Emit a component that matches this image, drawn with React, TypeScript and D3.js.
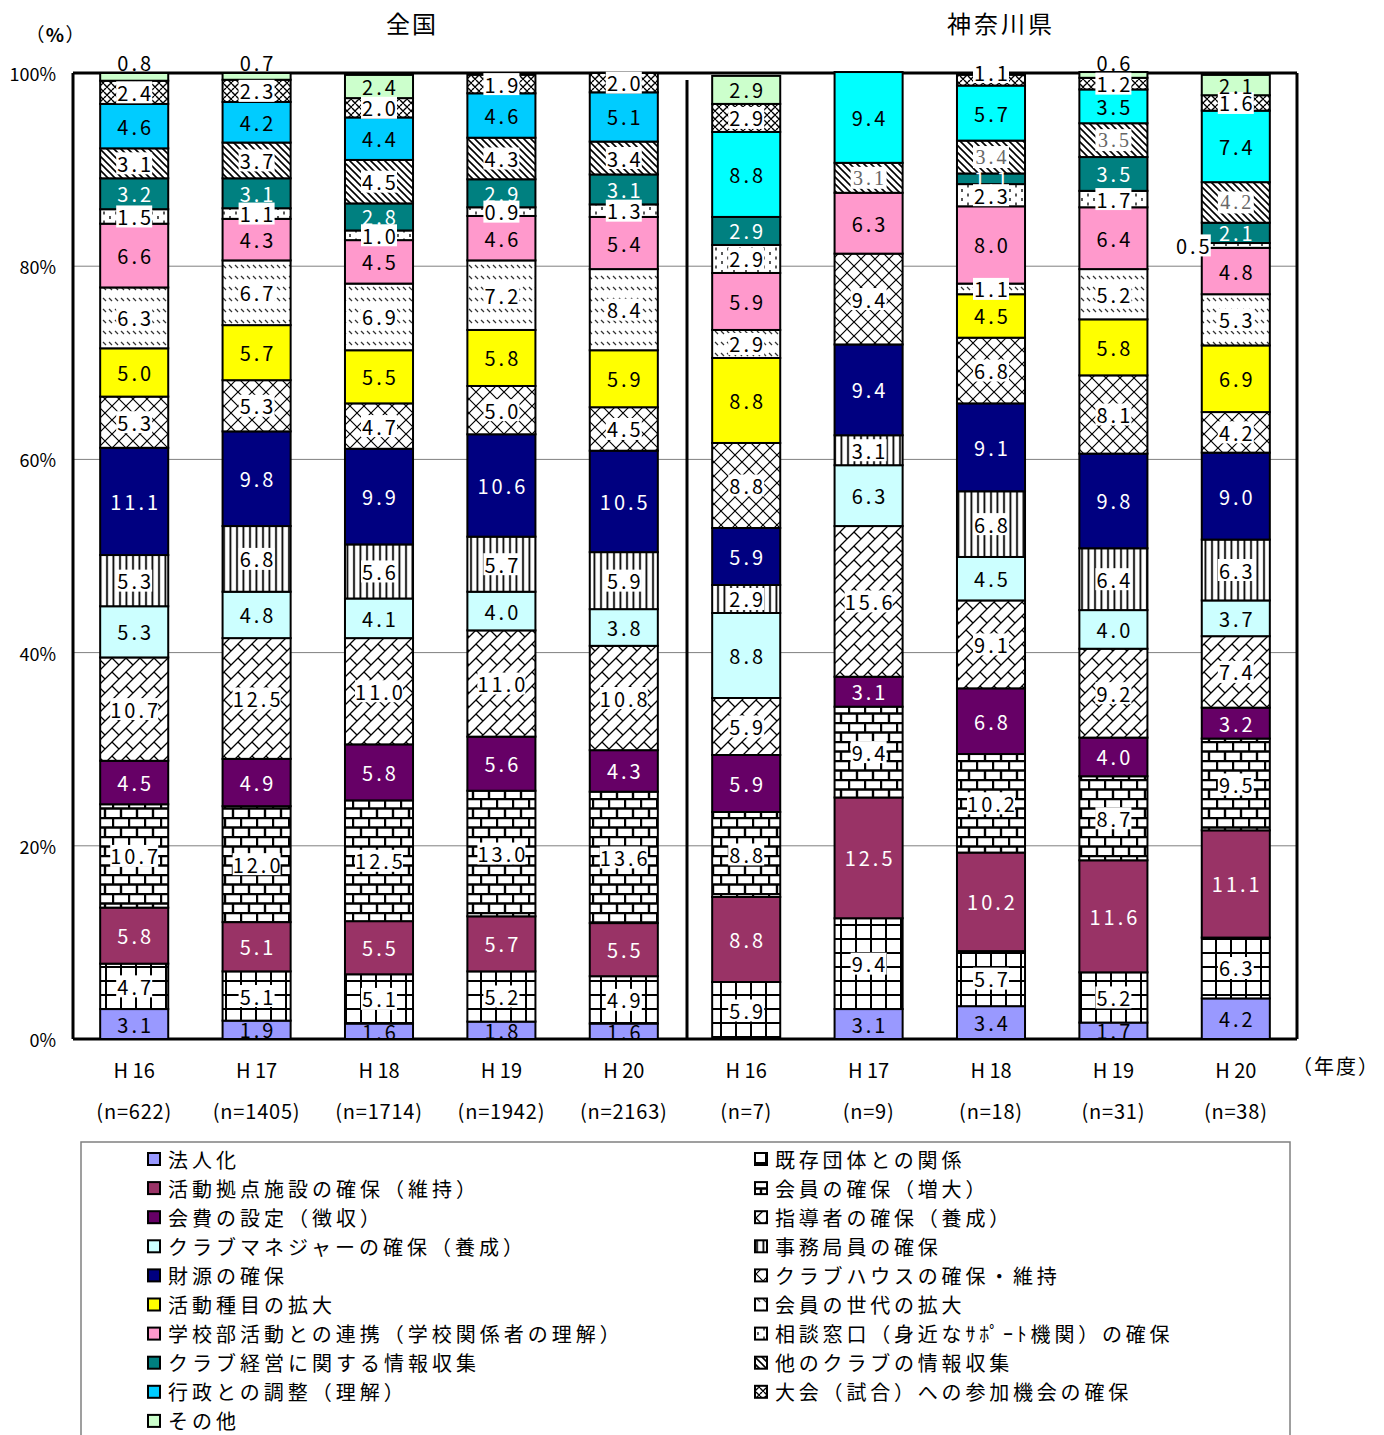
import React from "react";
import * as d3 from "d3";

const categories = [
  "法人化",
  "既存団体との関係",
  "活動拠点施設の確保（維持）",
  "会員の確保（増大）",
  "会費の設定（徴収）",
  "指導者の確保（養成）",
  "クラブマネジャーの確保（養成）",
  "事務局員の確保",
  "財源の確保",
  "クラブハウスの確保・維持",
  "活動種目の拡大",
  "会員の世代の拡大",
  "学校部活動との連携（学校関係者の理解）",
  "相談窓口（身近なｻﾎﾟｰﾄ機関）の確保",
  "クラブ経営に関する情報収集",
  "他のクラブの情報収集",
  "行政との調整（理解）",
  "大会（試合）への参加機会の確保",
  "その他",
];

const yearLabels = ["H 16", "H 17", "H 18", "H 19", "H 20", "H 16", "H 17", "H 18", "H 19", "H 20"];
const nLabels = ["(n=622)", "(n=1405)", "(n=1714)", "(n=1942)", "(n=2163)", "(n=7)", "(n=9)", "(n=18)", "(n=31)", "(n=38)"];
const groupTitles = ["全国", "神奈川県"];
const yTicks = [0, 20, 40, 60, 80, 100];

// values bottom -> top in category order
const zenkokuH16 = [3.1, 4.7, 5.8, 10.7, 4.5, 10.7, 5.3, 5.3, 11.1, 5.3, 5.0, 6.3, 6.6, 1.5, 3.2, 3.1, 4.6, 2.4, 0.8];
const zenkokuH17 = [1.9, 5.1, 5.1, 12.0, 4.9, 12.5, 4.8, 6.8, 9.8, 5.3, 5.7, 6.7, 4.3, 1.1, 3.1, 3.7, 4.2, 2.3, 0.7];
const zenkokuH18 = [1.6, 5.1, 5.5, 12.5, 5.8, 11.0, 4.1, 5.6, 9.9, 4.7, 5.5, 6.9, 4.5, 1.0, 2.8, 4.5, 4.4, 2.0, 2.4];
const zenkokuH19 = [1.8, 5.2, 5.7, 13.0, 5.6, 11.0, 4.0, 5.7, 10.6, 5.0, 5.8, 7.2, 4.6, 0.9, 2.9, 4.3, 4.6, 1.9, 0];
const zenkokuH20 = [1.6, 4.9, 5.5, 13.6, 4.3, 10.8, 3.8, 5.9, 10.5, 4.5, 5.9, 8.4, 5.4, 1.3, 3.1, 3.4, 5.1, 2.0, 0];
const kanagawaH16 = [0, 5.9, 8.8, 8.8, 5.9, 5.9, 8.8, 2.9, 5.9, 8.8, 8.8, 2.9, 5.9, 2.9, 2.9, 0, 8.8, 2.9, 2.9];
const kanagawaH17 = [3.1, 9.4, 12.5, 9.4, 3.1, 15.6, 6.3, 3.1, 9.4, 9.4, 0, 0, 6.3, 0, 0, 3.1, 9.4, 0, 0];
const kanagawaH18 = [3.4, 5.7, 10.2, 10.2, 6.8, 9.1, 4.5, 6.8, 9.1, 6.8, 4.5, 1.1, 8.0, 2.3, 1.1, 3.4, 5.7, 1.1, 0];
const kanagawaH19 = [1.7, 5.2, 11.6, 8.7, 4.0, 9.2, 4.0, 6.4, 9.8, 8.1, 5.8, 5.2, 6.4, 1.7, 3.5, 3.5, 3.5, 1.2, 0.6];
const kanagawaH20 = [4.2, 6.3, 11.1, 9.5, 3.2, 7.4, 3.7, 6.3, 9.0, 4.2, 6.9, 5.3, 4.8, 0.5, 2.1, 4.2, 7.4, 1.6, 2.1];

const barValues = [zenkokuH16, zenkokuH17, zenkokuH18, zenkokuH19, zenkokuH20, kanagawaH16, kanagawaH17, kanagawaH18, kanagawaH19, kanagawaH20];

// fills
const fills = [
  "#9999FF", "url(#p-grid)", "#993366", "url(#p-brick)", "#660066", "url(#p-dbrick)", "#CCFFFF",
  "url(#p-vert)", "#000080", "url(#p-diamond)", "#FFFF00", "url(#p-dash)", "#FF99CC", "url(#p-dot)",
  "#008080", "url(#p-diag)", "#00CCFF", "url(#p-weave)", "#CCFFCC",
];
const kanagawaGyosei = "#00FFFF";
const whiteText = [2, 4, 8, 14];

// label placement overrides: [bar, category, mode]
const labelOverrides: [number, number, string][] = [
  [0, 18, "above"],
  [1, 18, "above"],
  [8, 18, "above"],
  [9, 13, "left"],
  [7, 17, "top"],
];

const W = 1384;
const H = 1435;
const plotLeft = 73;
const plotRight = 1297;
const plotTop = 73;
const plotBottom = 1039;
const FONT = "'Noto Sans CJK JP', 'Noto Sans', sans-serif";

export default function App() {
  const idx = d3.range(barValues.length);
  const x = d3.scaleBand<number>().domain(idx).range([plotLeft, plotRight]).paddingInner(0.444).paddingOuter(0.222);
  const y = d3.scaleLinear().domain([0, 100]).range([plotBottom, plotTop]);
  const keys = categories.map((_, i) => String(i));
  const rows = barValues.map((vals) => {
    const o: Record<string, number> = {};
    vals.forEach((v, i) => (o[String(i)] = v));
    return o;
  });
  const series = d3.stack<Record<string, number>>().keys(keys)(rows);
  const bw = x.bandwidth();
  const sepX = (x(4)! + bw + x(5)!) / 2 + 2;

  const fillFor = (bar: number, cat: number) => (cat === 16 && bar >= 5 ? kanagawaGyosei : fills[cat]);

  const segs: any[] = [];
  const labels: any[] = [];
  series.forEach((s, ci) => {
    s.forEach((d, bi) => {
      const v = barValues[bi][ci];
      if (!v) return;
      const x0 = x(bi)!;
      const yTop = y(d[1]);
      const yBot = y(d[0]);
      segs.push(
        <rect key={`s${bi}-${ci}`} x={x0} y={yTop} width={bw} height={yBot - yTop} fill={fillFor(bi, ci)} stroke="#000" strokeWidth={2} />
      );
      const ov = labelOverrides.find((o) => o[0] === bi && o[1] === ci);
      let lx = x0 + bw / 2;
      let ly = (yTop + yBot) / 2;
      let box = fills[ci].startsWith("url");
      if (ov) {
        if (ov[2] === "above") {
          ly = y(100) - 11;
          box = false;
        } else if (ov[2] === "left") {
          lx = x0 - 9;
          box = true;
        } else if (ov[2] === "top") {
          ly = y(100) - 1;
        }
      }
      const text = v.toFixed(1);
      const tw = text.length === 3 ? 36 : 48;
      const greySerif = ci === 15 && bi >= 5;
      labels.push(
        <g key={`l${bi}-${ci}`}>
          {box && <rect x={lx - tw / 2} y={ly - 11} width={tw} height={22} fill="#fff" />}
          <text
            x={lx + 1.5}
            y={ly}
            textAnchor="middle"
            dominantBaseline="central"
            fontSize={20}
            letterSpacing={3}
            fontFamily={greySerif ? "'Liberation Serif', serif" : FONT}
            fill={whiteText.includes(ci) ? "#fff" : greySerif ? "#666" : "#000"}
          >
            {text}
          </text>
        </g>
      );
    });
  });

  const legendRowY = (r: number) => 1159 + r * 29.1;
  const leftCats = categories.map((_, i) => i).filter((i) => i % 2 === 0);
  const rightCats = categories.map((_, i) => i).filter((i) => i % 2 === 1);

  return (
    <svg width={W} height={H} style={{ position: "absolute", left: 0, top: 0, display: "block" }} fontFamily={FONT}>
      <defs>
        <pattern id="p-grid" width={15} height={14} patternUnits="userSpaceOnUse">
          <rect width={15} height={14} fill="#fff" />
          <path d="M0 1H15 M1 0V14" stroke="#000" strokeWidth={2} />
        </pattern>
        <pattern id="p-brick" width={16} height={19} patternUnits="userSpaceOnUse">
          <rect width={16} height={19} fill="#fff" />
          <path d="M0 1H16 M0 10.5H16 M1 0V10.5 M9 10.5V19" stroke="#000" strokeWidth={2.4} />
        </pattern>
        <pattern id="p-dbrick" width={14} height={14} patternUnits="userSpaceOnUse">
          <rect width={14} height={14} fill="#fff" />
          <path d="M-1 15L15 -1 M-2 2L2 -2 M12 16L16 12 M0 0L7 7" stroke="#000" strokeWidth={1.3} />
        </pattern>
        <pattern id="p-vert" width={6.5} height={6} patternUnits="userSpaceOnUse">
          <rect width={6.5} height={6} fill="#fff" />
          <path d="M3 0V6" stroke="#000" strokeWidth={1.8} />
        </pattern>
        <pattern id="p-diamond" width={14} height={14} patternUnits="userSpaceOnUse">
          <rect width={14} height={14} fill="#fff" />
          <path d="M0 0L14 14 M14 0L0 14" stroke="#000" strokeWidth={1.2} />
        </pattern>
        <pattern id="p-dash" width={6} height={11} patternUnits="userSpaceOnUse">
          <rect width={6} height={11} fill="#fff" />
          <path d="M1 1L4 4" stroke="#333" strokeWidth={1.3} />
        </pattern>
        <pattern id="p-dot" width={12} height={9} patternUnits="userSpaceOnUse">
          <rect width={12} height={9} fill="#fff" />
          <path d="M2 0V3 M8 4.5V7.5" stroke="#000" strokeWidth={1.3} />
        </pattern>
        <pattern id="p-diag" width={7} height={7} patternUnits="userSpaceOnUse">
          <rect width={7} height={7} fill="#fff" />
          <path d="M0 0L7 7 M-3.5 3.5L3.5 10.5 M3.5 -3.5L10.5 3.5" stroke="#000" strokeWidth={1.6} />
        </pattern>
        <pattern id="p-weave" width={8} height={8} patternUnits="userSpaceOnUse">
          <rect width={8} height={8} fill="#fff" />
          <path d="M0 2L2 0 M2 8L8 2 M4 0L8 4 M0 4L4 8" stroke="#000" strokeWidth={1.4} />
        </pattern>
      </defs>

      {/* gridlines */}
      {yTicks
        .filter((t) => t > 0 && t < 100)
        .map((t) => (
          <line key={`g${t}`} x1={plotLeft} x2={plotRight} y1={y(t)} y2={y(t)} stroke="#808080" strokeWidth={1} />
        ))}

      {/* frame */}
      <line x1={plotLeft} x2={plotRight} y1={plotTop} y2={plotTop} stroke="#000" strokeWidth={3} />
      <line x1={plotLeft} x2={plotRight} y1={plotBottom} y2={plotBottom} stroke="#000" strokeWidth={3} />
      <line x1={plotLeft} x2={plotLeft} y1={plotTop} y2={plotBottom} stroke="#000" strokeWidth={3} />
      <line x1={plotRight} x2={plotRight} y1={plotTop} y2={plotBottom} stroke="#000" strokeWidth={3} />
      <line x1={sepX} x2={sepX} y1={80} y2={plotBottom} stroke="#000" strokeWidth={3} />

      {segs}
      {labels}

      {/* y axis labels */}
      {yTicks.map((t) => (
        <text key={`yt${t}`} x={56} y={y(t)} textAnchor="end" dominantBaseline="central" fontSize={18}>
          {t}%
        </text>
      ))}
      <text x={35} y={33} textAnchor="middle" dominantBaseline="central" fontSize={19}>（</text>
      <text x={55} y={33} textAnchor="middle" dominantBaseline="central" fontSize={19} fontWeight="bold">%</text>
      <text x={75} y={33} textAnchor="middle" dominantBaseline="central" fontSize={19}>）</text>

      {/* group titles */}
      <text x={412} y={22} textAnchor="middle" dominantBaseline="central" fontSize={24} letterSpacing={2}>
        {groupTitles[0]}
      </text>
      <text x={1001} y={22} textAnchor="middle" dominantBaseline="central" fontSize={24} letterSpacing={3}>
        {groupTitles[1]}
      </text>

      {/* category labels */}
      {idx.map((i) => (
        <g key={`c${i}`}>
          <text x={x(i)! + bw / 2} y={1069} textAnchor="middle" dominantBaseline="central" fontSize={20}>
            {yearLabels[i]}
          </text>
          <text x={x(i)! + bw / 2} y={1110} textAnchor="middle" dominantBaseline="central" fontSize={20} letterSpacing={0.8}>
            {nLabels[i]}
          </text>
        </g>
      ))}
      <text x={1336} y={1065} textAnchor="middle" dominantBaseline="central" fontSize={20} letterSpacing={2}>
        （年度）
      </text>

      {/* legend */}
      <rect x={81} y={1142} width={1209} height={310} fill="none" stroke="#808080" strokeWidth={1.5} />
      {leftCats.map((ci, r) => (
        <g key={`lg${ci}`}>
          <rect x={148} y={legendRowY(r) - 6} width={12} height={12} fill={fills[ci]} stroke="#000" strokeWidth={2} />
          <text x={168} y={legendRowY(r)} dominantBaseline="central" fontSize={20} letterSpacing={4}>
            {categories[ci]}
          </text>
        </g>
      ))}
      {rightCats.map((ci, r) => (
        <g key={`rg${ci}`}>
          <rect x={755} y={legendRowY(r) - 6} width={12} height={12} fill={fills[ci]} stroke="#000" strokeWidth={2} />
          <text x={775} y={legendRowY(r)} dominantBaseline="central" fontSize={20} letterSpacing={3.8}>
            {categories[ci]}
          </text>
        </g>
      ))}
    </svg>
  );
}
